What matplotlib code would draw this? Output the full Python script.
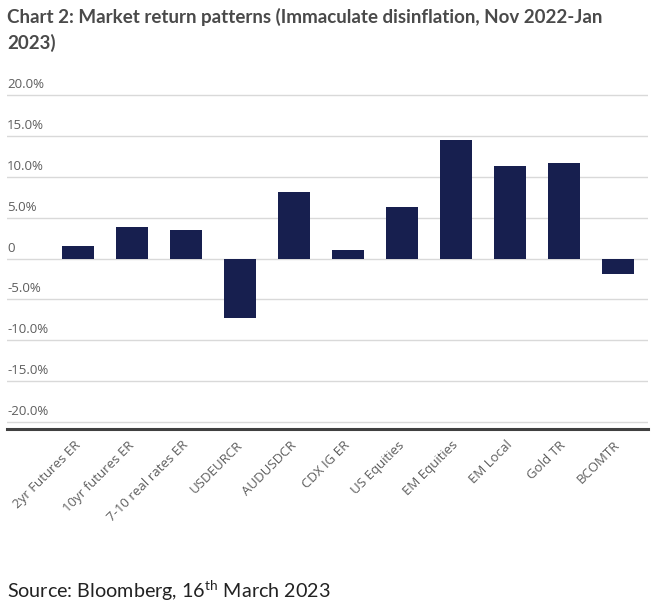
import matplotlib
matplotlib.use('Agg')
import matplotlib.pyplot as plt
import matplotlib.transforms as mtransforms

plt.rcParams['font.family'] = ['Open Sans', 'DejaVu Sans']
plt.rcParams['mathtext.fontset'] = 'custom'
plt.rcParams['mathtext.rm'] = 'Lato'

categories = ['2yr Futures ER', '10yr futures ER', '7-10 real rates ER', 'USDEURCR',
              'AUDUSDCR', 'CDX IG ER', 'US Equities', 'EM Equities', 'EM Local',
              'Gold TR', 'BCOMTR']
returns = [1.5, 3.9, 3.45, -7.3, 8.1, 1.1, 6.25, 14.5, 11.3, 11.7, -1.9]
ytick_vals = [20, 15, 10, 5, 0, -5, -10, -15, -20]
ytick_labels = ['20.0%', '15.0%', '10.0%', '5.0%', '0', '-5.0%', '-10.0%', '-15.0%', '-20.0%']

fig = plt.figure(figsize=(6.6, 6.08), dpi=100)
ax = fig.add_axes([7 / 660, 1 - 429.3 / 608, 641 / 660, 335 / 608])

x = list(range(len(categories)))
ax.bar(x, returns, width=0.6, color='#171f4f', zorder=3)

ax.set_xlim(-1.32, 10.56)
ax.set_ylim(-20.9, 20.1)
ax.set_yticks(ytick_vals)
ax.set_yticklabels([])
ax.tick_params(axis='y', length=0)
ax.yaxis.grid(True, color='#d9d9d9', linewidth=1.0, zorder=0)

offset = mtransforms.offset_copy(ax.get_yaxis_transform(), fig=fig, x=0, y=4, units='dots')
for v, lab in zip(ytick_vals, ytick_labels):
    ax.text(0, v, lab, transform=offset, ha='left', va='bottom',
            fontsize=9.5, color='#5e5e5e')

ax.set_xticks(x)
ax.set_xticklabels(categories, rotation=45, ha='right', va='center',
                   rotation_mode='anchor', fontsize=9.5, color='#5e5e5e')
ax.tick_params(axis='x', length=0, pad=10)

for s in ['top', 'right', 'left']:
    ax.spines[s].set_visible(False)
ax.spines['bottom'].set_color('#404040')
ax.spines['bottom'].set_linewidth(2.2)

fig.text(7 / 660, 1 - 8 / 608,
         'Chart 2: Market return patterns (Immaculate disinflation, Nov 2022-Jan\n2023)',
         ha='left', va='top', fontsize=13.5, fontweight='bold', color='#4a4a4a',
         family='Lato', linespacing=1.5)

fig.text(7 / 660, 1 - 598 / 608, r'Source: Bloomberg, 16$^{\mathrm{th}}$ March 2023',
         ha='left', va='baseline', fontsize=14.2, color='#222222', family='Lato')

fig.savefig('out.png', dpi=100)
